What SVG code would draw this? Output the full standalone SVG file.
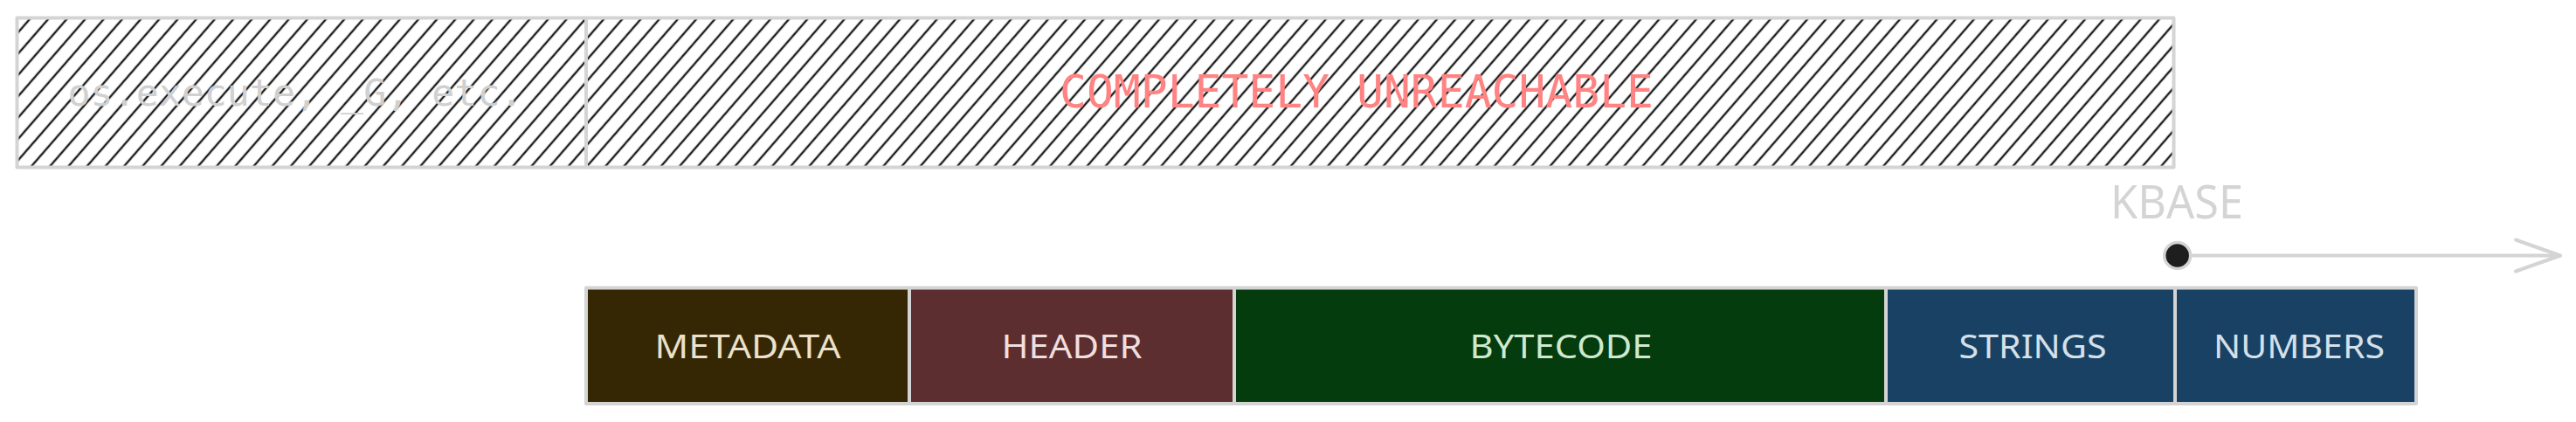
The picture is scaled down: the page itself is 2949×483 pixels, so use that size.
<svg xmlns="http://www.w3.org/2000/svg" width="2949" height="483" viewBox="0 0 2949 483">
  <style>
    .frame { stroke: #d4d4d4; stroke-width: 4; stroke-linejoin: round; }
    .hatched { fill: url(#hatch); }
    .hand { font-family: "DejaVu Sans Mono", "Liberation Mono", monospace; }
    .label { font-family: "Noto Sans", "Open Sans", sans-serif; font-size: 38px; text-anchor: middle; }
    .conn { stroke: #d4d4d4; stroke-width: 4; fill: none; stroke-linecap: round; stroke-linejoin: round; }
  </style>
  <defs>
    <pattern id="hatch" width="16" height="16" patternUnits="userSpaceOnUse" patternTransform="rotate(-49)">
      <rect x="0" y="6.8" width="16" height="2.4" fill="#1e1e1e"/>
    </pattern>
    <marker id="openArrow" markerUnits="userSpaceOnUse" viewBox="-58 -24 64 48" markerWidth="64" markerHeight="48" refX="0" refY="0" orient="auto" overflow="visible">
      <path d="M-51,-18 L0,0 L-51,18" fill="none" stroke="#d4d4d4" stroke-width="4" stroke-linecap="round" stroke-linejoin="round"/>
    </marker>
  </defs>

  <rect x="0" y="0" width="2949" height="483" fill="#ffffff"/>

  <g id="reachable-globals">
    <rect class="frame hatched" x="19.5" y="20.5" width="651.5" height="171"/>
    <text class="hand" x="338" y="121" font-size="43" fill="#d0d0d0" text-anchor="middle" textLength="521" lengthAdjust="spacingAndGlyphs">os.execute, _G, etc.</text>
  </g>

  <g id="unreachable">
    <rect class="frame hatched" x="671" y="20.5" width="1817.5" height="171"/>
    <text class="hand" x="1553" y="123" font-size="52" fill="#ff8383" text-anchor="middle" textLength="680" lengthAdjust="spacingAndGlyphs">COMPLETELY UNREACHABLE</text>
  </g>

  <g id="kbase-label">
    <text x="2492" y="250" font-family="Noto Sans, Open Sans, sans-serif" font-size="52" fill="#d4d4d4" text-anchor="middle" textLength="152" lengthAdjust="spacingAndGlyphs">KBASE</text>
  </g>

  <g id="metadata">
    <rect class="frame" x="671" y="329.5" width="370" height="132.5" fill="#352703"/>
    <text class="label" x="856" y="409.5" fill="#ebe1cc" textLength="213" lengthAdjust="spacingAndGlyphs">METADATA</text>
  </g>
  <g id="header">
    <rect class="frame" x="1041" y="329.5" width="372" height="132.5" fill="#5c2e2f"/>
    <text class="label" x="1227" y="409.5" fill="#f0dede" textLength="161" lengthAdjust="spacingAndGlyphs">HEADER</text>
  </g>
  <g id="bytecode">
    <rect class="frame" x="1413" y="329.5" width="746" height="132.5" fill="#053c0d"/>
    <text class="label" x="1787" y="409.5" fill="#cfe9cf" textLength="209" lengthAdjust="spacingAndGlyphs">BYTECODE</text>
  </g>
  <g id="strings">
    <rect class="frame" x="2159" y="329.5" width="331" height="132.5" fill="#184163"/>
    <text class="label" x="2327" y="409.5" fill="#d4e0ea" textLength="169" lengthAdjust="spacingAndGlyphs">STRINGS</text>
  </g>
  <g id="numbers">
    <rect class="frame" x="2490" y="329.5" width="276" height="132.5" fill="#184163"/>
    <text class="label" x="2632" y="409.5" fill="#d4e0ea" textLength="196" lengthAdjust="spacingAndGlyphs">NUMBERS</text>
  </g>

  <g id="connectors">
    <line class="conn" x1="2509" y1="292.5" x2="2931" y2="292.5" marker-end="url(#openArrow)"/>
    <circle cx="2492.7" cy="292.5" r="15" fill="#1e1e1e" stroke="#d4d4d4" stroke-width="3.5"/>
  </g>
</svg>
